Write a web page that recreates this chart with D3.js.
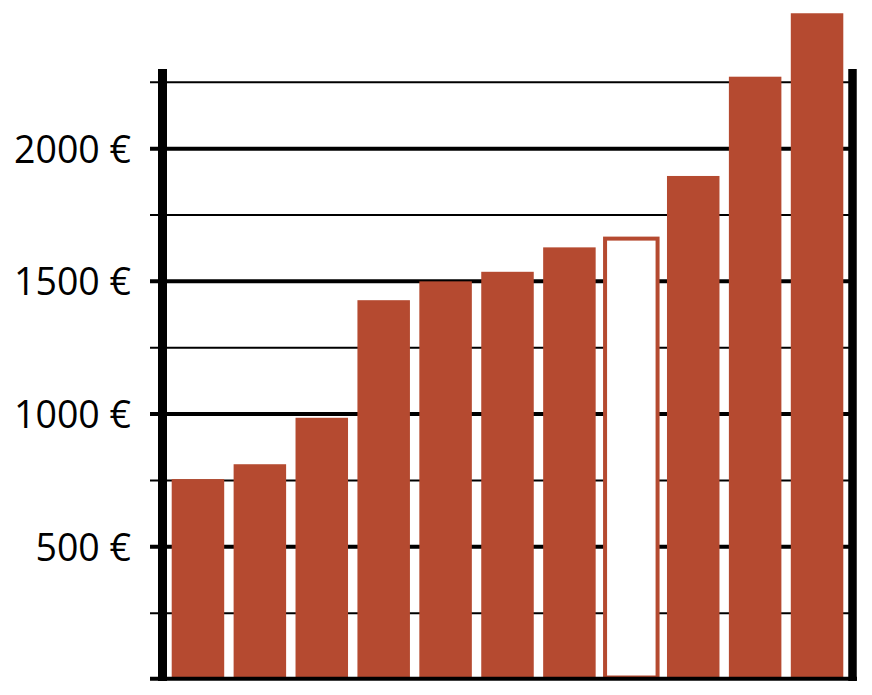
<!DOCTYPE html>
<html><head><meta charset="utf-8">
<script src="https://cdn.jsdelivr.net/npm/d3@7"></script>
<style>html,body{margin:0;padding:0;background:#fff;}svg{display:block;}</style>
</head><body>
<svg id="chart" width="872" height="695"></svg>
<script>
const categories = ["1","2","3","4","5","6","7","8","9","10","11"];
const values = [755, 811, 986, 1429, 1500, 1536, 1628, 1661, 1897, 2271, 2510];
const highlighted = [false,false,false,false,false,false,false,true,false,false,false];
const majorTicks = [500, 1000, 1500, 2000];
const minorTicks = [250, 750, 1250, 1750, 2250];
const tickLabels = ["500 €", "1000 €", "1500 €", "2000 €"];

(function () {
const svg = d3.select("#chart");
const barColor = "#b54a30";
const plotLeft = 167, plotRight = 848, plotBottom = 679.5, plotTop = 69;

const x = d3.scaleBand().domain(categories).range([plotLeft, plotRight])
  .paddingInner(0.152).paddingOuter(0.076);
const y = d3.scaleLinear().domain([0, 2300]).range([plotBottom, plotTop]);

// minor gridlines
svg.append("g").selectAll("line").data(minorTicks).join("line")
  .attr("x1", 150).attr("x2", 852)
  .attr("y1", d => y(d)).attr("y2", d => y(d))
  .attr("stroke", "#000").attr("stroke-width", 2);
// major gridlines
svg.append("g").selectAll("line").data(majorTicks).join("line")
  .attr("x1", 150).attr("x2", 852)
  .attr("y1", d => y(d)).attr("y2", d => y(d))
  .attr("stroke", "#000").attr("stroke-width", 4);

// bars
svg.append("g").selectAll("rect").data(categories).join("rect")
  .attr("x", d => x(d))
  .attr("width", x.bandwidth())
  .attr("y", (d, i) => y(values[i]))
  .attr("height", (d, i) => y(0) - 2 - y(values[i]))
  .attr("fill", (d, i) => highlighted[i] ? "#fff" : barColor)
  .attr("stroke", (d, i) => highlighted[i] ? barColor : "none")
  .attr("stroke-width", 4);

// axis labels
const axis = d3.axisLeft(y).tickValues(majorTicks)
  .tickFormat((d, i) => tickLabels[i]).tickSize(0).tickPadding(0);
const ag = svg.append("g").attr("transform", "translate(131,0)").call(axis);
ag.select(".domain").remove();
ag.selectAll("text")
  .attr("font-family", "'Open Sans', sans-serif")
  .attr("font-size", 37.5)
  .attr("fill", "#000")
  .attr("dy", "0.36em");

// frame: left & right axis lines, baseline
svg.append("line").attr("x1", 162.5).attr("x2", 162.5)
  .attr("y1", y(2300)).attr("y2", 681).attr("stroke", "#000").attr("stroke-width", 9);
svg.append("line").attr("x1", 852.5).attr("x2", 852.5)
  .attr("y1", y(2300)).attr("y2", 681).attr("stroke", "#000").attr("stroke-width", 8.5);
svg.append("line").attr("x1", 150).attr("x2", 857)
  .attr("y1", 678.7).attr("y2", 678.7).attr("stroke", "#000").attr("stroke-width", 4);
})();
</script>
</body></html>
